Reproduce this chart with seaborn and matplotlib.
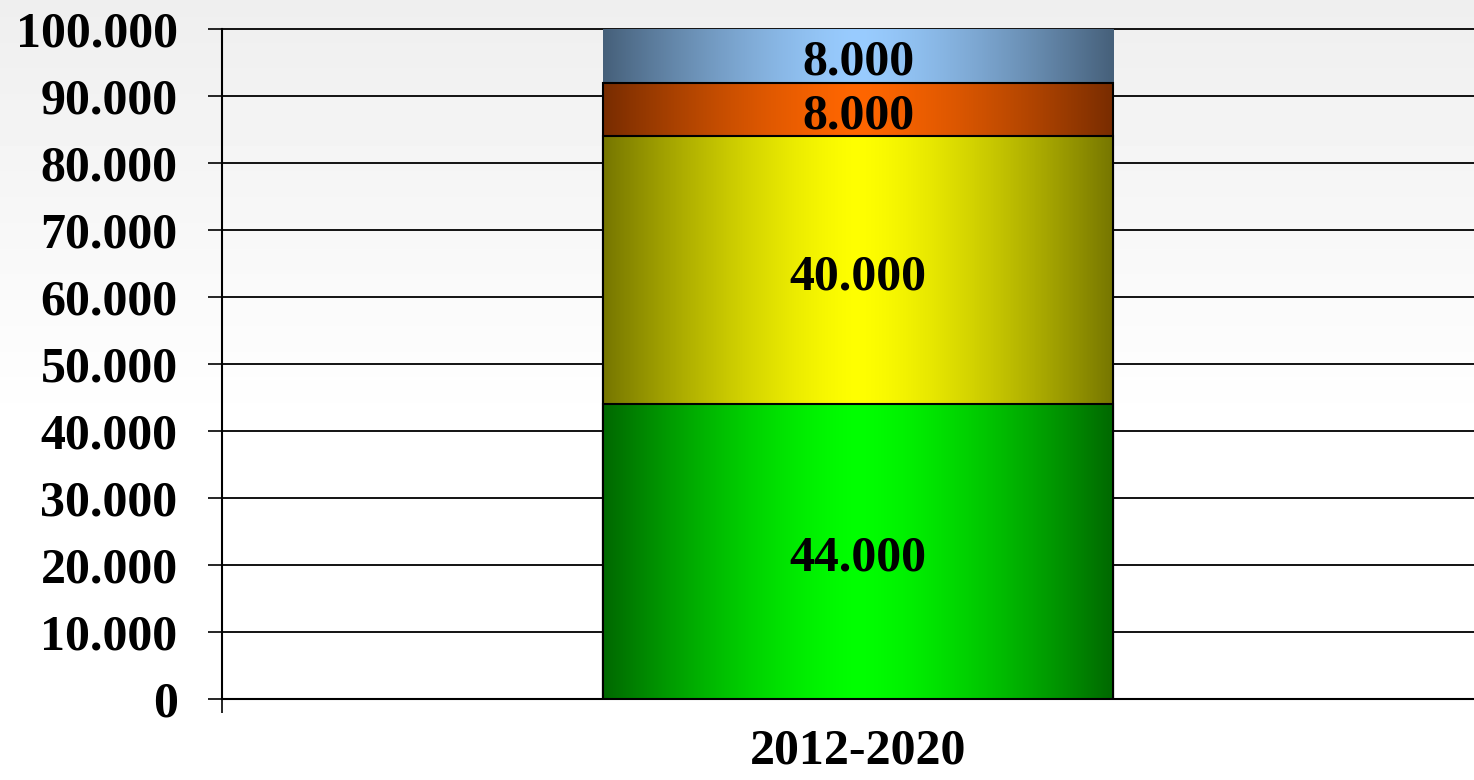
import numpy as np
import pandas as pd
import seaborn as sns
import matplotlib.pyplot as plt
from matplotlib.ticker import FuncFormatter

# dados do grafico
periodo = ['2012-2020']
segmentos = ['verde', 'amarelo', 'laranja', 'azul']
valores = [44000, 40000, 8000, 8000]
cor_borda = ['#006800', '#767600', '#782c00', '#46607a']
cor_centro = ['#00ff00', '#ffff00', '#ff6600', '#99ccff']
com_contorno = [True, True, True, False]
yticks = list(range(0, 100001, 10000))


def fmt_milhar(v, pos=None):
    return '{:,}'.format(int(round(v))).replace(',', '.')


def gradiente(borda, centro, n=256):
    b = np.array(plt.matplotlib.colors.to_rgb(borda))
    c = np.array(plt.matplotlib.colors.to_rgb(centro))
    t = (np.abs(np.linspace(-1, 1, n)) ** 1.4)[:, None]
    return (c * (1 - t) + b * t)[None, :, :]


sns.set_theme(style='white')
plt.rcParams['font.family'] = ['Liberation Serif', 'DejaVu Serif']
plt.rcParams['font.weight'] = 'bold'

fig = plt.figure(figsize=(14.74, 7.8), dpi=100)

# fundo do slide (cinza claro em cima, branco em baixo)
bg = fig.add_axes([0, 0, 1, 1], zorder=-10)
rows = np.linspace(0, 1, 780)
shade = np.clip(0.935 + 0.065 * rows / 0.55, 0, 1)
bg.imshow(shade[:, None], cmap='gray', vmin=0, vmax=1, aspect='auto',
          extent=[0, 1, 0, 1])
bg.axis('off')

ax = fig.add_axes([222 / 1474, 81 / 780, 1252 / 1474, 670 / 780])
ax.patch.set_alpha(0)

largura = 0.4
acumulado = np.cumsum(valores)
df = pd.DataFrame({'periodo': periodo * len(segmentos),
                   'segmento': segmentos,
                   'total': acumulado})

# barras empilhadas: desenha do total para baixo, cada uma por cima
for i in reversed(range(len(segmentos))):
    sns.barplot(data=df.iloc[[i]], x='periodo', y='total', width=largura,
                ax=ax)
    p = ax.patches[-1]
    p.set_facecolor('none')
    p.set_edgecolor('black' if com_contorno[i] else 'none')
    p.set_linewidth(1.5)
    p.set_zorder(3 + 2 * (len(segmentos) - i))
    x0, w, h = p.get_x(), p.get_width(), p.get_height()
    ax.imshow(gradiente(cor_borda[i], cor_centro[i]), aspect='auto',
              extent=[x0, x0 + w, 0, h], zorder=2 + 2 * (len(segmentos) - i))

base = 0
for i, v in enumerate(valores):
    ax.annotate(fmt_milhar(v), (0, base + v / 2), xytext=(0, -7),
                textcoords='offset pixels', ha='center', va='center',
                fontsize=36, fontweight='bold', color='black', zorder=20)
    base += v

xesq = -0.2 - 381 / 1275
ax.set_xlim(xesq, xesq + 1252 / 1275)
ax.set_ylim(0, 100000)
ax.set_yticks(yticks)
ax.yaxis.set_major_formatter(FuncFormatter(fmt_milhar))
ax.set_xticks([0])
ax.set_xticklabels(periodo)
ax.set_xticks([xesq], minor=True)
ax.set_xlabel('')
ax.set_ylabel('')

ax.set_axisbelow(True)
ax.yaxis.grid(True, color='black', linewidth=1.3)
for ln in ax.get_ygridlines():
    ln.set_clip_on(False)

ax.tick_params(axis='y', which='major', length=10, width=1.2, color='black',
               direction='out', left=True, pad=22, labelsize=36,
               labelcolor='black')
ax.tick_params(axis='x', which='major', length=0, pad=21, labelsize=36,
               labelcolor='black')
ax.tick_params(axis='x', which='minor', length=10, width=1.2, color='black',
               direction='out', bottom=True)
for lab in ax.get_yticklabels() + ax.get_xticklabels():
    lab.set_fontweight('bold')

for s in ['top', 'right']:
    ax.spines[s].set_visible(False)
for s in ['left', 'bottom']:
    ax.spines[s].set_visible(True)
    ax.spines[s].set_color('black')
    ax.spines[s].set_linewidth(1.5)

fig.savefig('out.png', dpi=100)
